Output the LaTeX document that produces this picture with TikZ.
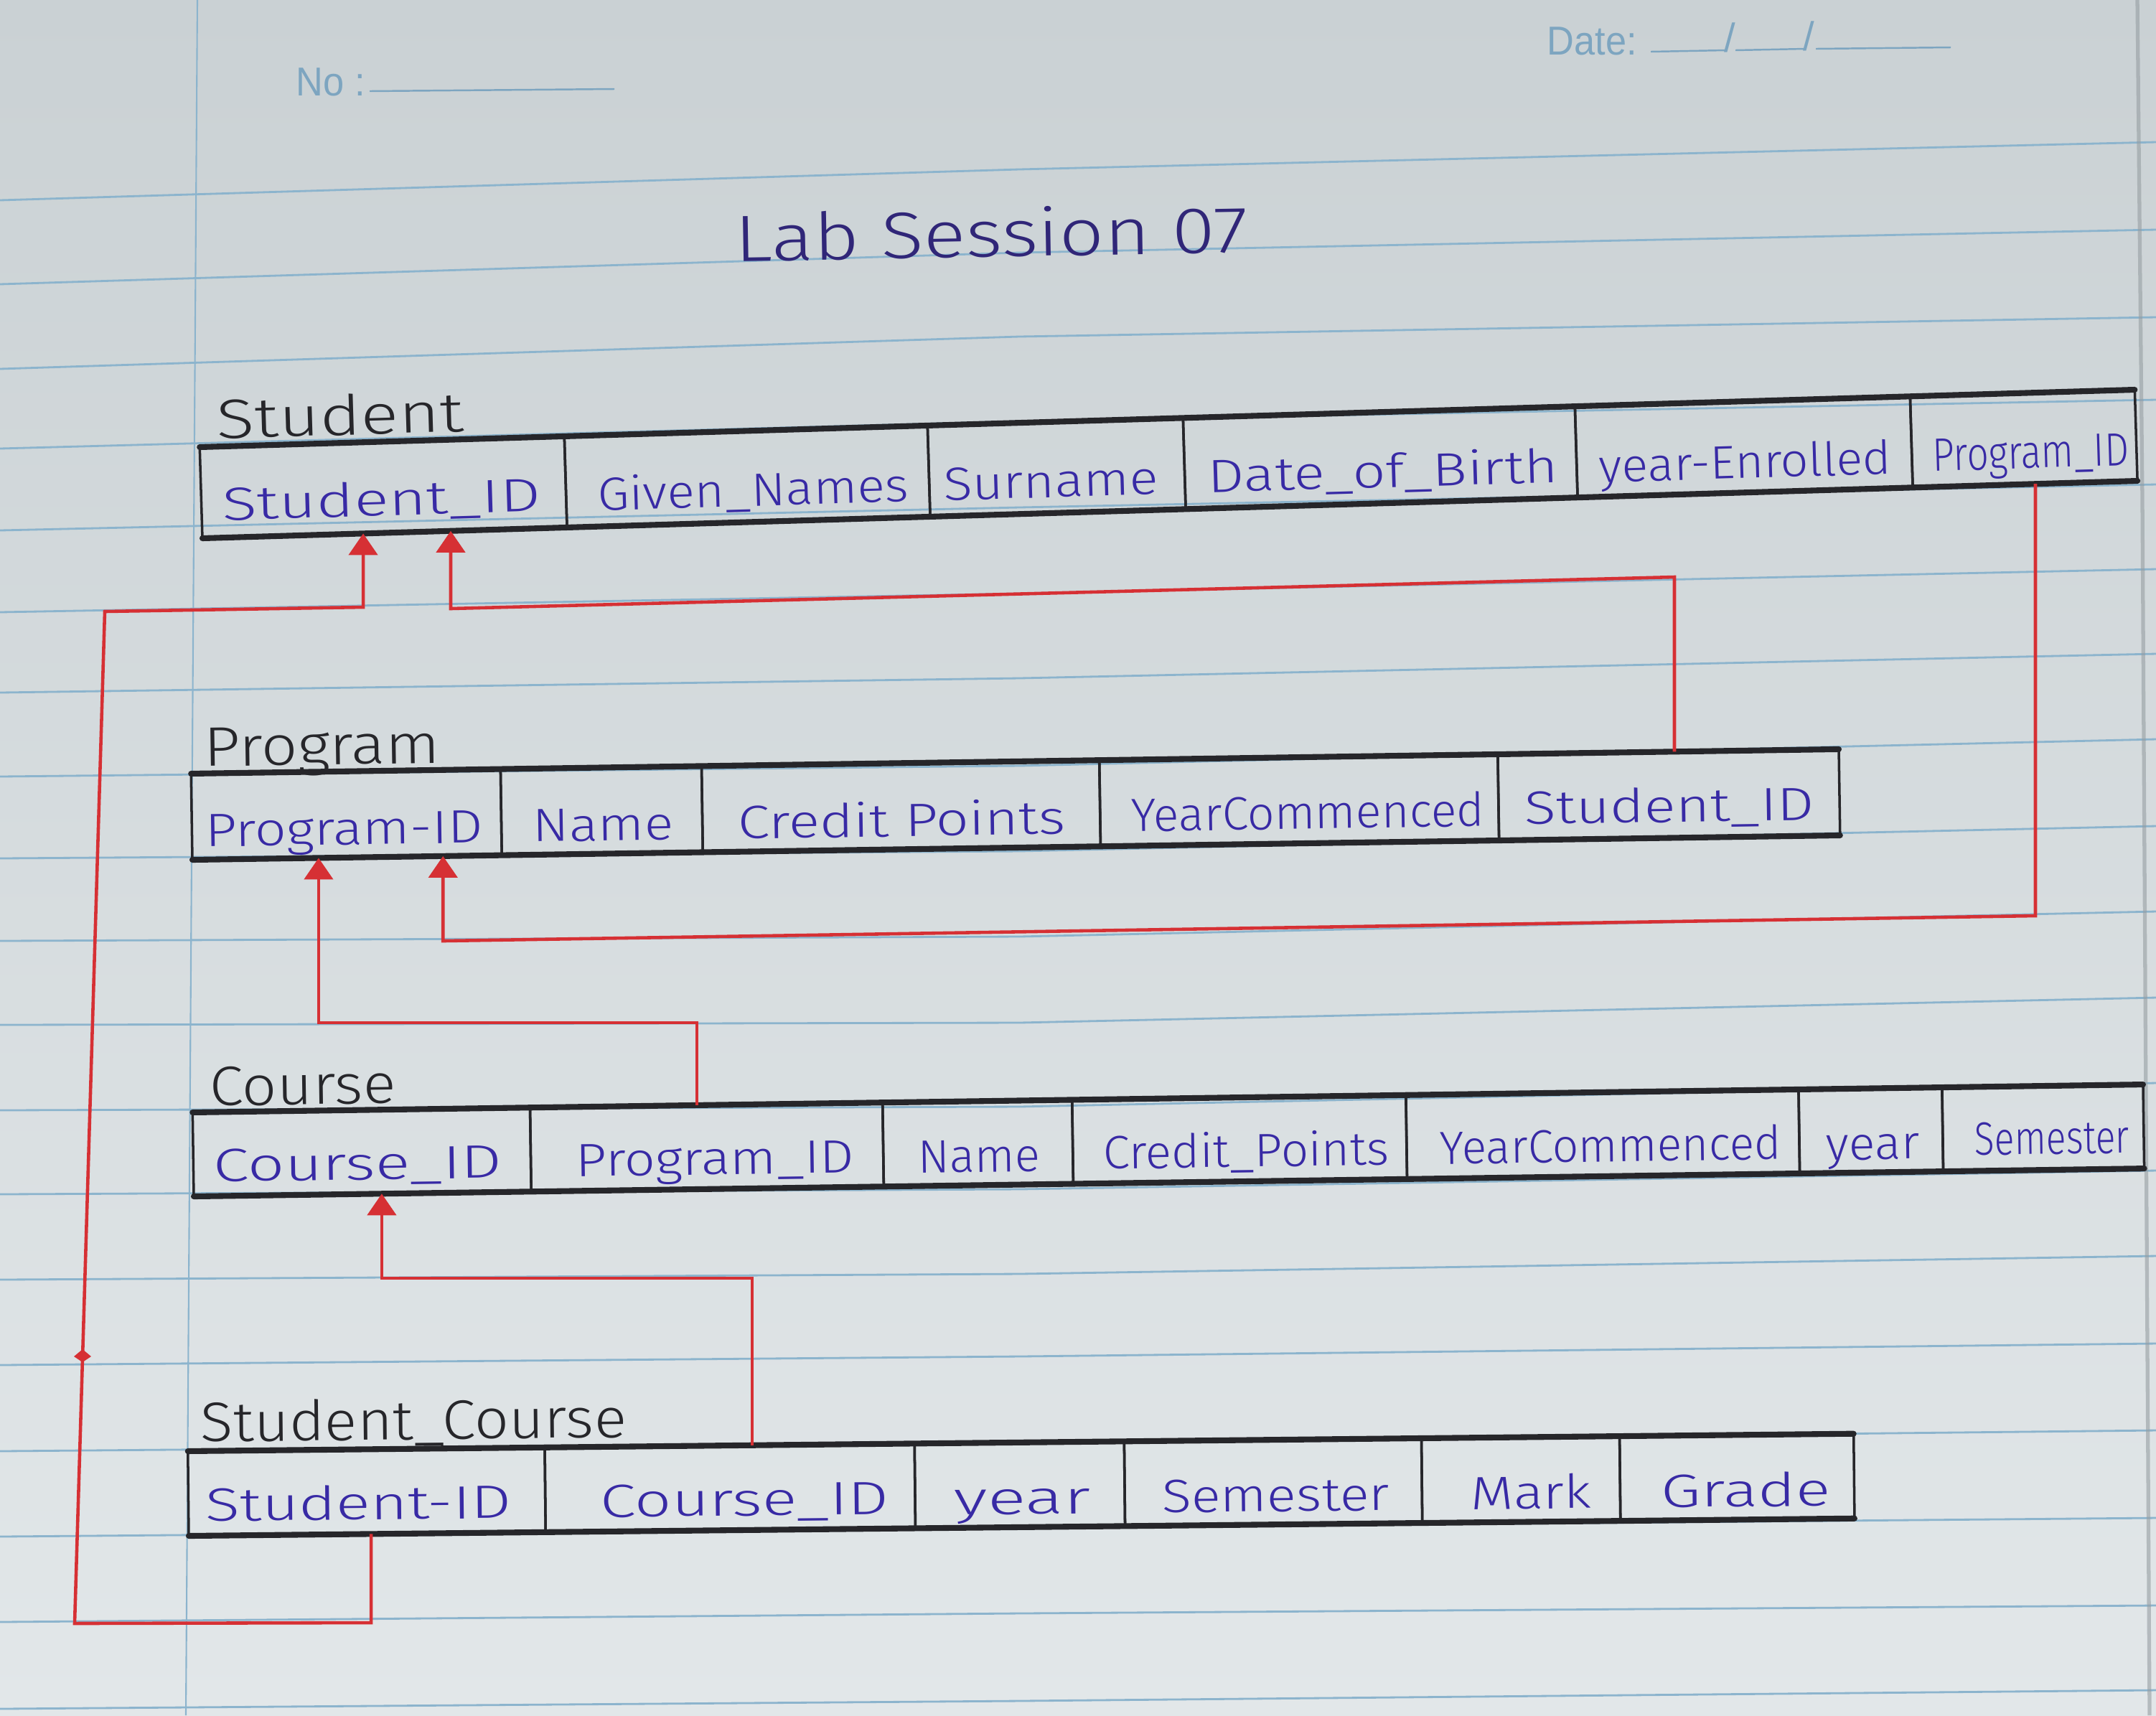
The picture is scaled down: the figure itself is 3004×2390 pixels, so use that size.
\documentclass[tikz,border=0pt]{standalone}
\usepackage{fontspec}
\setmainfont{Fira Sans}
\newfontfamily\handfont{Fira Sans Light}
\newfontfamily\printfont{Liberation Sans}
\usepackage{graphicx}
\usetikzlibrary{calc,arrows.meta}
\definecolor{ink}{RGB}{56,42,165}
\definecolor{titleink}{RGB}{48,38,120}
\definecolor{pen}{RGB}{38,38,42}
\definecolor{redpen}{RGB}{214,48,52}
\definecolor{rulecol}{RGB}{140,180,205}
\definecolor{printcol}{RGB}{125,165,192}
\definecolor{paperTop}{RGB}{202,209,212}
\definecolor{paperMid}{RGB}{222,227,229}
\definecolor{paperBot}{RGB}{226,231,233}
\definecolor{edgecol}{RGB}{150,158,162}
\newcommand\fw[2]{\resizebox{#1}{\height}{#2}}
\begin{document}
\begin{tikzpicture}[x=0.01cm,y=-0.01cm,
  cellbox/.style={draw=pen, line width=1pt, inner sep=0pt, outer sep=0pt, anchor=south west, transform shape},
  celltxt/.style={text=ink, font={\handfont\fontsize{18.5}{22}\selectfont}, inner sep=0pt, anchor=base, transform shape},
  tlabel/.style={text=pen, font={\handfont\fontsize{22}{26}\selectfont}, inner sep=0pt, anchor=base, transform shape},
  edge/.style={draw=pen, line width=2.3pt, line cap=round},
  fk/.style={draw=redpen, line width=1.3pt, -{Triangle[length=0.3cm,width=0.4cm]}},
  rule/.style={draw=rulecol, line width=0.8pt},
  printtxt/.style={text=printcol, font={\printfont\fontsize{16}{19}\selectfont}, inner sep=0pt, anchor=base west},
  printline/.style={draw=printcol, line width=0.7pt}]
% paper
\shade[top color=paperTop, middle color=paperMid, bottom color=paperBot] (0,0) rectangle (3004,2390);
\useasboundingbox (0,0) rectangle (3004,2390);
\foreach \yl/\dm/\dr in {279/-43/-81, 396/-44/-76, 514/-45/-72, 625/-38/-68, 739/-32/-64, 853/-26/-60, 965/-20/-54, 1082/-15/-52, 1196/-10/-45, 1311/-6/-41, 1428/-3/-38, 1547/-5/-38, 1664/-7/-33, 1783/-8/-33, 1902/-12/-30, 2022/-12/-29, 2141/-12/-26, 2260/-12/-23, 2381/-11/-26}
  \draw[rule] (0,\yl) -- (1420,{\yl+(\dm)}) -- (3004,{\yl+(\dr)});
\draw[rule, line width=0.6pt] (275,0) -- (259,2390);
\draw[edgecol, line width=1.5pt, opacity=0.6] (2978,0) -- (2985,700) -- (2995,2390);
% header
\node[printtxt] (no) at (412,133) {\fw{0.96cm}{No :}};
\draw[printline] (515,127) -- (856,124);
\node[printtxt] (date) at (2155,76) {\fw{1.25cm}{Date:}};
\draw[printline] (2300,72) -- (2405,70);
\node[printtxt] (sl1) at (2402,72) {/};
\draw[printline] (2418,70) -- (2515,68);
\node[printtxt] (sl2) at (2512,70) {/};
\draw[printline] (2530,68) -- (2718,66);
% title
\node[text=titleink, font={\handfont\fontsize{26}{30}\selectfont}, inner sep=0pt, anchor=base, rotate=1] (title) at (1382,358) {\fw{7.15cm}{Lab Session 07}};
% Student
\begin{scope}[shift={(282,750)}, rotate=1.7]
  \node[cellbox, minimum width=5.08cm, minimum height=1.27cm] (st1) at (0,0) {};
  \node[cellbox, minimum width=5.06cm, minimum height=1.27cm] (st2) at (st1.south east) {};
  \node[cellbox, minimum width=3.56cm, minimum height=1.27cm] (st3) at (st2.south east) {};
  \node[cellbox, minimum width=5.46cm, minimum height=1.27cm] (st4) at (st3.south east) {};
  \node[cellbox, minimum width=4.67cm, minimum height=1.27cm] (st5) at (st4.south east) {};
  \node[cellbox, minimum width=3.13cm, minimum height=1.27cm] (st6) at (st5.south east) {};
  \node[tlabel] (stl) at (197,-138) {\fw{3.44cm}{Student}};
  \node[celltxt] (st1t) at (251,-24) {\fw{4.43cm}{Student\_ID}};
  \node[celltxt] (st2t) at (769,-22) {\fw{4.33cm}{Given\_Names}};
  \node[celltxt] (st3t) at (1184,-22) {\fw{2.99cm}{Surname}};
  \node[celltxt] (st4t) at (1647,-22) {\fw{4.88cm}{Date\_of\_Birth}};
  \node[celltxt] (st5t) at (2152,-20) {\fw{4.07cm}{year-Enrolled}};
  \node[celltxt] (st6t) at (2550,-22) {\fw{2.73cm}{Program\_ID}};
\end{scope}
\draw[edge] (st1.north west) -- (st6.north east);
\draw[edge] (st1.south west) -- (st6.south east);
% Program
\begin{scope}[shift={(268,1198)}, rotate=0.85]
  \node[cellbox, minimum width=4.31cm, minimum height=1.2cm] (pg1) at (0,0) {};
  \node[cellbox, minimum width=2.80cm, minimum height=1.2cm] (pg2) at (pg1.south east) {};
  \node[cellbox, minimum width=5.54cm, minimum height=1.2cm] (pg3) at (pg2.south east) {};
  \node[cellbox, minimum width=5.55cm, minimum height=1.2cm] (pg4) at (pg3.south east) {};
  \node[cellbox, minimum width=4.75cm, minimum height=1.2cm] (pg5) at (pg4.south east) {};
  \node[tlabel] (pgl) at (183,-130) {\fw{3.29cm}{Program}};
  \node[celltxt] (pg1t) at (212,-18) {\fw{3.87cm}{Program-ID}};
  \node[celltxt] (pg2t) at (573,-18) {\fw{1.96cm}{Name}};
  \node[celltxt] (pg3t) at (989,-18) {\fw{4.56cm}{Credit Points}};
  \node[celltxt] (pg4t) at (1555,-20) {\fw{4.92cm}{YearCommenced}};
  \node[celltxt] (pg5t) at (2059,-22) {\fw{4.03cm}{Student\_ID}};
\end{scope}
\draw[edge] (pg1.north west) -- (pg5.north east);
\draw[edge] (pg1.south west) -- (pg5.south east);
% Course
\begin{scope}[shift={(270,1667)}, rotate=0.82]
  \node[cellbox, minimum width=4.70cm, minimum height=1.17cm] (cs1) at (0,0) {};
  \node[cellbox, minimum width=4.91cm, minimum height=1.17cm] (cs2) at (cs1.south east) {};
  \node[cellbox, minimum width=2.64cm, minimum height=1.17cm] (cs3) at (cs2.south east) {};
  \node[cellbox, minimum width=4.65cm, minimum height=1.17cm] (cs4) at (cs3.south east) {};
  \node[cellbox, minimum width=5.47cm, minimum height=1.17cm] (cs5) at (cs4.south east) {};
  \node[cellbox, minimum width=2.00cm, minimum height=1.17cm] (cs6) at (cs5.south east) {};
  \node[cellbox, minimum width=2.80cm, minimum height=1.17cm] (cs7) at (cs6.south east) {};
  \node[tlabel] (csl) at (154,-126) {\fw{2.59cm}{Course}};
  \node[celltxt] (cs1t) at (229,-20) {\fw{4.02cm}{Course\_ID}};
  \node[celltxt] (cs2t) at (727,-20) {\fw{3.88cm}{Program\_ID}};
  \node[celltxt] (cs3t) at (1095,-18) {\fw{1.70cm}{Name}};
  \node[celltxt] (cs4t) at (1467,-20) {\fw{3.98cm}{Credit\_Points}};
  \node[celltxt] (cs5t) at (1975,-20) {\fw{4.75cm}{YearCommenced}};
  \node[celltxt] (cs6t) at (2340,-18) {\fw{1.30cm}{year}};
  \node[celltxt] (cs7t) at (2590,-22) {\fw{2.15cm}{Semester}};
\end{scope}
\draw[edge] (cs1.north west) -- (cs7.north east);
\draw[edge] (cs1.south west) -- (cs7.south east);
% Student_Course
\begin{scope}[shift={(263,2140)}, rotate=0.6]
  \node[cellbox, minimum width=4.97cm, minimum height=1.18cm] (sc1) at (0,0) {};
  \node[cellbox, minimum width=5.15cm, minimum height=1.18cm] (sc2) at (sc1.south east) {};
  \node[cellbox, minimum width=2.92cm, minimum height=1.18cm] (sc3) at (sc2.south east) {};
  \node[cellbox, minimum width=4.14cm, minimum height=1.18cm] (sc4) at (sc3.south east) {};
  \node[cellbox, minimum width=2.76cm, minimum height=1.18cm] (sc5) at (sc4.south east) {};
  \node[cellbox, minimum width=3.26cm, minimum height=1.18cm] (sc6) at (sc5.south east) {};
  \node[tlabel] (scl) at (315,-131) {\fw{5.93cm}{Student\_Course}};
  \node[celltxt] (sc1t) at (237,-20) {\fw{4.26cm}{Student-ID}};
  \node[celltxt] (sc2t) at (775,-20) {\fw{4.02cm}{Course\_ID}};
  \node[celltxt] (sc3t) at (1162,-18) {\fw{1.90cm}{year}};
  \node[celltxt] (sc4t) at (1515,-18) {\fw{3.17cm}{Semester}};
  \node[celltxt] (sc5t) at (1871,-18) {\fw{1.68cm}{Mark}};
  \node[celltxt] (sc6t) at (2170,-18) {\fw{2.36cm}{Grade}};
\end{scope}
\draw[edge] (sc1.north west) -- (sc6.north east);
\draw[edge] (sc1.south west) -- (sc6.south east);
% connector end points
\coordinate (A1) at ($(st1.south west)!0.441!(st1.south east)$);
\coordinate (A2) at ($(st1.south west)!0.681!(st1.south east)$);
\coordinate (P5) at ($(pg5.north west)!0.518!(pg5.north east)$);
\coordinate (S6) at ($(st6.south west)!0.546!(st6.south east)$);
\coordinate (B1) at ($(pg1.south west)!0.408!(pg1.south east)$);
\coordinate (B2) at ($(pg1.south west)!0.81!(pg1.south east)$);
\coordinate (C2) at ($(cs2.north west)!0.473!(cs2.north east)$);
\coordinate (K1) at ($(cs1.south west)!0.557!(cs1.south east)$);
\coordinate (T2) at ($(sc2.north west)!0.561!(sc2.north east)$);
\coordinate (U1) at ($(sc1.south west)!0.511!(sc1.south east)$);
% waypoints
\coordinate (w1) at (2336,804);
\coordinate (w2) at (628,848);
\coordinate (v1) at (517,2261);
\coordinate (v2) at (104,2262);
\coordinate (v3) at (146,852);
\coordinate (v4) at (504,846);
\coordinate (e1) at (2836,1276);
\coordinate (e2) at (617,1311);
\coordinate (f1) at (0,1425);
\coordinate (g1) at (0,1781);
% foreign keys
\draw[fk] (P5) -- (P5 |- w1) -- (A2 |- w2) -- (A2);
\draw[fk] (U1) -- (U1 |- v1) -- (v2) -- (v3) -- (A1 |- v4) -- (A1);
\draw[fk] (S6) -- (S6 |- e1) -- (B2 |- e2) -- (B2);
\draw[fk] (C2) -- (C2 |- f1) -- (B1 |- f1) -- (B1);
\draw[fk] (T2) -- (T2 |- g1) -- (K1 |- g1) -- (K1);
\fill[redpen] (103,1890) -- (115,1880) -- (127,1890) -- (115,1898) -- cycle;
\end{tikzpicture}
\end{document}
